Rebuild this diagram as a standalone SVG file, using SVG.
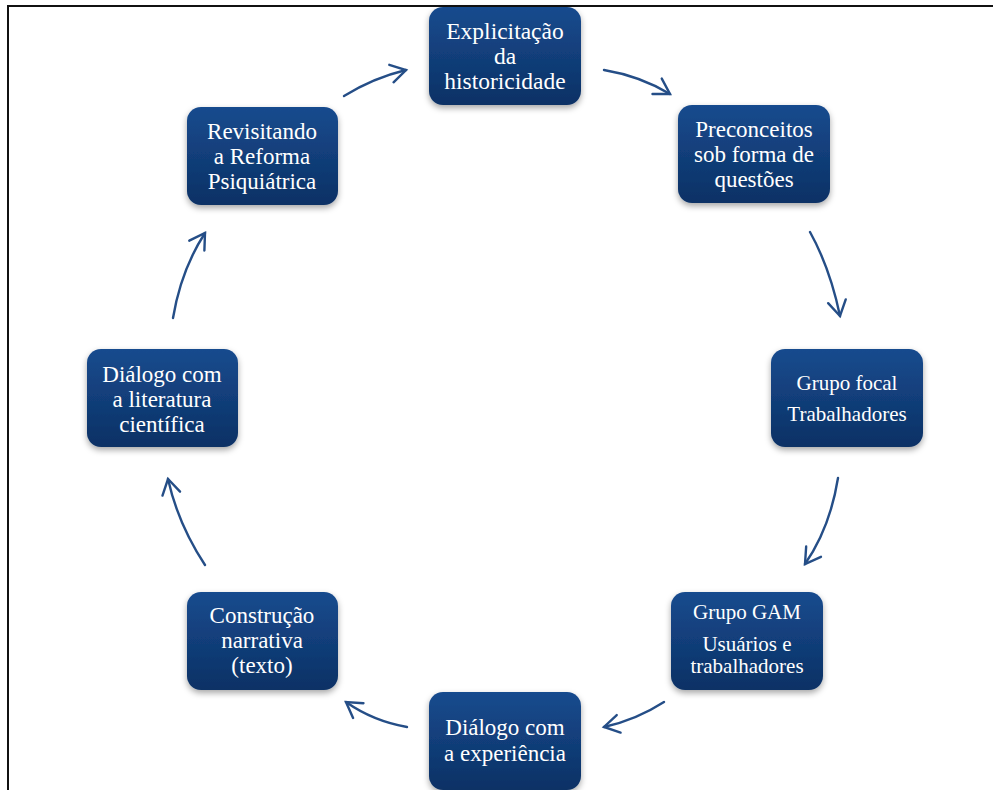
<svg xmlns="http://www.w3.org/2000/svg" width="993" height="790" viewBox="0 0 993 790">
<defs>
<linearGradient id="g" x1="0" y1="0" x2="0" y2="1">
<stop offset="0" stop-color="#174b8e"/>
<stop offset="1" stop-color="#0c3165"/>
</linearGradient>
<filter id="sh" x="-10%" y="-10%" width="120%" height="130%">
<feDropShadow dx="0" dy="3" stdDeviation="3" flood-color="#000" flood-opacity="0.35"/>
</filter>
<marker id="ah" markerUnits="userSpaceOnUse" markerWidth="30" markerHeight="30" refX="0" refY="0" viewBox="-20 -15 30 30" orient="auto">
<path d="M-15,-9 L0,0 L-15,9" fill="none" stroke="#254e87" stroke-width="2.4" stroke-linecap="round" stroke-linejoin="miter"/>
</marker>
<style>
.box{fill:url(#g);filter:url(#sh)}
.t{font-family:"Liberation Serif","Times New Roman",serif;fill:#fff;text-anchor:middle}
.c{fill:none;stroke:#254e87;stroke-width:2.4;stroke-linecap:round;marker-end:url(#ah)}
</style>
</defs>
<rect width="993" height="790" fill="#fff"/>
<rect x="8" y="6" width="1000" height="800" fill="none" stroke="#111" stroke-width="2"/>
<g id="connectors">
<path class="c" d="M344,96 Q373,78 406,70"/>
<path class="c" d="M604,70 Q640,76 670,94"/>
<path class="c" d="M810,232 Q830,268 840,316"/>
<path class="c" d="M838,478 Q830,528 805,564"/>
<path class="c" d="M664,702 Q636,720 604,727"/>
<path class="c" d="M407,727 Q373,721 346,702"/>
<path class="c" d="M205,565 Q178,524 168,479"/>
<path class="c" d="M173,318 Q181,270 205,233"/>
</g>
<g id="n1"><rect class="box" x="429" y="7" width="152" height="98" rx="14"/>
<text class="t" font-size="23.5"><tspan x="505" y="39">Explicitação</tspan><tspan x="505" y="64">da</tspan><tspan x="505" y="89">historicidade</tspan></text></g>
<g id="n2"><rect class="box" x="678" y="105" width="152" height="98" rx="14"/>
<text class="t" font-size="23"><tspan x="754" y="137">Preconceitos</tspan><tspan x="754" y="162">sob forma de</tspan><tspan x="754" y="187">questões</tspan></text></g>
<g id="n3"><rect class="box" x="771" y="349" width="152" height="98" rx="14"/>
<text class="t" font-size="21"><tspan x="847" y="390">Grupo focal</tspan><tspan x="847" y="421">Trabalhadores</tspan></text></g>
<g id="n4"><rect class="box" x="671" y="592" width="152" height="98" rx="14"/>
<text class="t" font-size="21"><tspan x="747" y="619">Grupo GAM</tspan><tspan x="747" y="651">Usuários e</tspan><tspan x="747" y="673">trabalhadores</tspan></text></g>
<g id="n5"><rect class="box" x="429" y="692" width="152" height="98" rx="14"/>
<text class="t" font-size="23"><tspan x="505" y="735">Diálogo com</tspan><tspan x="505" y="761">a experiência</tspan></text></g>
<g id="n6"><rect class="box" x="187" y="592" width="151" height="98" rx="14"/>
<text class="t" font-size="23"><tspan x="262" y="623">Construção</tspan><tspan x="262" y="648">narrativa</tspan><tspan x="262" y="673">(texto)</tspan></text></g>
<g id="n7"><rect class="box" x="87" y="349" width="151" height="98" rx="14"/>
<text class="t" font-size="23"><tspan x="162" y="382">Diálogo com</tspan><tspan x="162" y="407">a literatura</tspan><tspan x="162" y="432">científica</tspan></text></g>
<g id="n8"><rect class="box" x="187" y="107" width="151" height="98" rx="14"/>
<text class="t" font-size="23"><tspan x="262" y="139">Revisitando</tspan><tspan x="262" y="164">a Reforma</tspan><tspan x="262" y="189">Psiquiátrica</tspan></text></g>
</svg>
